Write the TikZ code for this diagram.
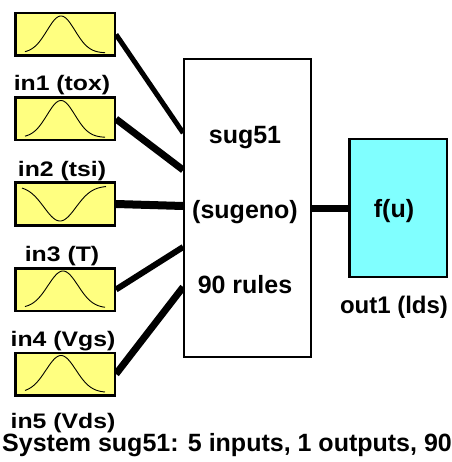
\documentclass[tikz,border=0pt]{standalone}
\usepackage{fontspec}
\setmainfont{Liberation Sans}
\usepackage{graphicx}
\usetikzlibrary{backgrounds}
\definecolor{mfyellow}{RGB}{255,255,128}
\definecolor{mfcyan}{RGB}{128,255,255}
\begin{document}
\begin{tikzpicture}[x=1pt,y=-1pt,
  inbox/.style={draw=black, line width=2.5pt, fill=mfyellow, minimum width=99.5pt, minimum height=42.5pt, inner sep=0pt},
  fisbox/.style={draw=black, line width=2.2pt, fill=white, minimum width=126.5pt, minimum height=297.5pt, inner sep=0pt},
  outbox/.style={draw=black, line width=2.5pt, fill=mfcyan, minimum width=97.5pt, minimum height=137.5pt, inner sep=0pt},
  mf/.style={draw=black, line width=0.9pt},
  lbl/.style={font=\fontsize{21}{25}\selectfont\bfseries, anchor=base, inner sep=0pt},
  ctext/.style={font=\fontsize{25}{30}\selectfont\bfseries, anchor=base, inner sep=0pt},
  wire/.style={draw=black, line cap=butt}
]
\useasboundingbox (0,0) rectangle (451,462);

% input boxes
\node[inbox] (i1) at (65,34.5) {};
\node[inbox] (i2) at (65,119) {};
\node[inbox] (i3) at (65,204) {};
\node[inbox] (i4) at (65,289.5) {};
\node[inbox] (i5) at (65,374) {};

% membership curves
\draw[mf] plot[domain=-36:44, samples=70] ({61+\x},{34.5+18.5-37*exp(-((\x/14)^2)/2)});
\draw[mf] plot[domain=-36:44, samples=70] ({61+\x},{119+18.5-37*exp(-((\x/14)^2)/2)});
\draw[mf] plot[domain=-38:46, samples=70] ({60+\x},{204+17-35*(1-exp(-((\x/16)^2)/2))});
\draw[mf] plot[domain=-38:42, samples=70] ({63+\x},{289.5+18.5-37*exp(-((\x/15)^2)/2)});
\draw[mf] plot[domain=-36:44, samples=70] ({61+\x},{374+18.5-37*exp(-((\x/15)^2)/2)});

% labels
\node[lbl] (l1) at (62,91) {\scalebox{1.18}[1]{in1 (tox)}};
\node[lbl] (l2) at (62,176) {\scalebox{1.18}[1]{in2 (tsi)}};
\node[lbl] (l3) at (62,261) {\scalebox{1.18}[1]{in3 (T)}};
\node[lbl] (l4) at (63,346) {\scalebox{1.18}[1]{in4 (Vgs)}};
\node[lbl] (l5) at (63,428) {\scalebox{1.18}[1]{in5 (Vds)}};

% central FIS box
\node[fisbox] (c) at (247.5,208) {};
\node[ctext] (t1) at (245,144) {sug51};
\node[ctext] (t2) at (245,218) {(sugeno)};
\node[ctext] (t3) at (245,293) {90 rules};

% output box
\node[outbox] (o) at (398,208) {};
\node[ctext] (f) at (394,217) {f(u)};
\node[ctext, font=\fontsize{24}{28}\selectfont\bfseries] (ol) at (394,313) {out1 (lds)};

% connectors
\begin{scope}[on background layer]
\fill[white] (0,0) rectangle (451,462);
\draw[wire, line width=5pt] (i1.east) -- ([yshift=75pt]c.west);
\draw[wire, line width=7pt] (i2.east) -- ([yshift=38pt]c.west);
\draw[wire, line width=8pt] (i3.east) -- ([yshift=2pt]c.west);
\draw[wire, line width=6pt] (i4.east) -- ([yshift=-39pt]c.west);
\draw[wire, line width=7pt] (i5.east) -- ([yshift=-79pt]c.west);
\draw[wire, line width=7pt] (c.east) -- (o.west);
\end{scope}

% caption
\node[font=\fontsize{25}{30}\selectfont\bfseries, anchor=base west, inner sep=0pt] (cap) at (2,451) {System sug51: 5 inputs, 1 outputs, 90};
\end{tikzpicture}
\end{document}
